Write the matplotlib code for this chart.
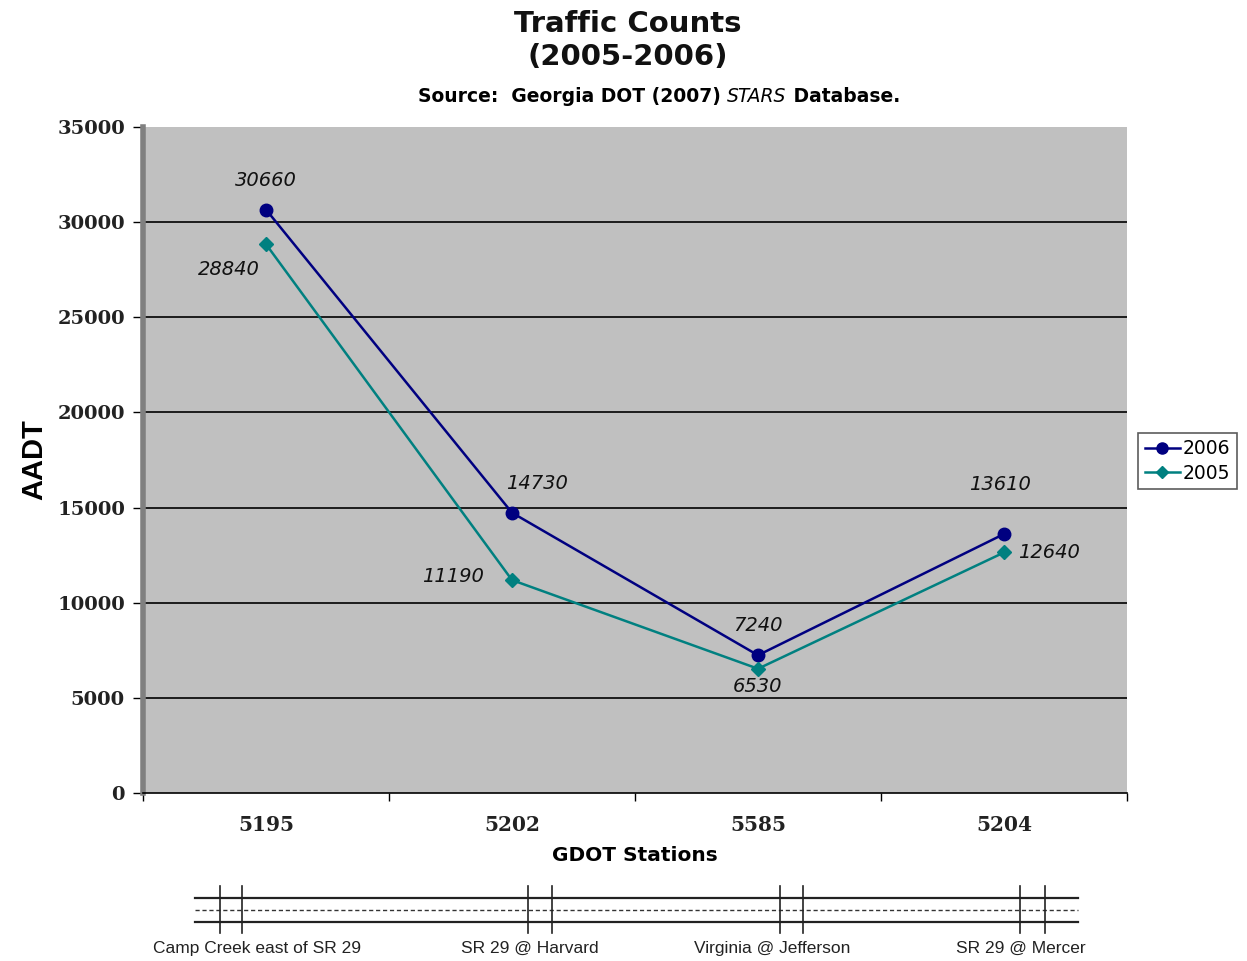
import matplotlib
matplotlib.use("Agg")
import matplotlib.pyplot as plt
from matplotlib.lines import Line2D

stations = ["5195", "5202", "5585", "5204"]
aadt_2006 = [30660, 14730, 7240, 13610]
aadt_2005 = [28840, 11190, 6530, 12640]
locations = ["Camp Creek east of SR 29", "SR 29 @ Harvard", "Virginia @ Jefferson", "SR 29 @ Mercer"]
yticks = [0, 5000, 10000, 15000, 20000, 25000, 30000, 35000]

W, H = 1247, 961
fig = plt.figure(figsize=(W / 100, H / 100), dpi=100)
fig.patch.set_facecolor("white")

def fx(px):
    return px / W

def fy(py):
    return 1 - py / H

ax = fig.add_axes([fx(143), fy(793), fx(1127) - fx(143), fy(127) - fy(793)])
ax.set_facecolor("#C0C0C0")
x = list(range(len(stations)))
ax.set_xlim(-0.5, len(stations) - 0.5)
ax.set_ylim(0, 35000)
for v in yticks[1:-1]:
    ax.axhline(v, color="black", lw=1.2, zorder=1)

ax.plot(x, aadt_2006, color="#000080", lw=1.8, marker="o", ms=9, zorder=3, label="2006")
ax.plot(x, aadt_2005, color="#008080", lw=1.8, marker="D", ms=7, zorder=3, label="2005")

# data labels
lbl_kw = dict(fontsize=14, style="italic", color="#111111", family="DejaVu Sans", zorder=4)
offs_2006 = [(0, 20, "center", "bottom"), (-6, 20, "left", "bottom"), (0, 20, "center", "bottom"), (-4, 40, "center", "bottom")]
offs_2005 = [(-6, -16, "right", "top"), (-28, 4, "right", "center"), (0, -8, "center", "top"), (14, 0, "left", "center")]
for i, v in enumerate(aadt_2006):
    dx, dy, ha, va = offs_2006[i]
    ax.annotate(str(v), (x[i], v), xytext=(dx, dy), textcoords="offset pixels", ha=ha, va=va, **lbl_kw)
for i, v in enumerate(aadt_2005):
    dx, dy, ha, va = offs_2005[i]
    ax.annotate(str(v), (x[i], v), xytext=(dx, dy), textcoords="offset pixels", ha=ha, va=va, **lbl_kw)

ax.set_yticks(yticks)
ax.set_yticklabels([str(v) for v in yticks], fontsize=14, fontweight="bold", family="DejaVu Serif", color="#222222")
ax.set_xticks(x)
ax.set_xticklabels(stations, fontsize=14.5, fontweight="bold", family="DejaVu Serif", color="#222222")
ax.set_xticks([i - 0.5 for i in range(len(stations) + 1)], minor=True)
ax.tick_params(axis="x", which="major", length=0, pad=16)
ax.tick_params(axis="x", which="minor", length=6, width=1, color="black", direction="out")
ax.tick_params(axis="y", length=7, width=1, color="black", direction="out", pad=6)

for s in ["top", "right"]:
    ax.spines[s].set_visible(False)
ax.spines["left"].set_color("#808080")
ax.spines["left"].set_linewidth(4)
ax.spines["bottom"].set_color("black")
ax.spines["bottom"].set_linewidth(1.2)

ax.set_xlabel("GDOT Stations", fontsize=14.5, fontweight="bold", family="DejaVu Sans", labelpad=8)
ax.set_ylabel("AADT", fontsize=21, fontweight="bold", family="Liberation Sans", labelpad=6)

# titles
fig.text(0.5035, fy(24), "Traffic Counts", ha="center", va="center", fontsize=21, fontweight="bold", family="DejaVu Sans", color="#111111")
fig.text(0.5035, fy(57), "(2005-2006)", ha="center", va="center", fontsize=21, fontweight="bold", family="DejaVu Sans", color="#111111")
src_y = fy(97)
fs_src = 13.5
t1 = fig.text(fx(418), src_y, "Source:  Georgia DOT (2007) ", ha="left", va="center", fontsize=fs_src, fontweight="bold", family="DejaVu Sans")
fig.canvas.draw()
r = fig.canvas.get_renderer()
bb = t1.get_window_extent(r)
t2 = fig.text(bb.x1 / W, src_y, "STARS", ha="left", va="center", fontsize=fs_src, style="italic", family="DejaVu Sans")
bb2 = t2.get_window_extent(r)
fig.text(bb2.x1 / W, src_y, " Database.", ha="left", va="center", fontsize=fs_src, fontweight="bold", family="DejaVu Sans")

# legend
handles = [Line2D([], [], color="#000080", marker="o", ms=8, lw=1.8),
           Line2D([], [], color="#008080", marker="D", ms=6, lw=1.8)]
leg = fig.legend(handles, ["2006", "2005"], loc="center left", bbox_to_anchor=(fx(1138), fy(461)),
                 frameon=True, fancybox=False, edgecolor="#333333", handlelength=1.9,
                 handletextpad=0.15, borderpad=0.35, borderaxespad=0, labelspacing=0.3,
                 prop={"family": "DejaVu Sans", "size": 13.5})
leg.get_frame().set_linewidth(1.2)

# bottom road diagram
dax = fig.add_axes([0, 0, 1, 1], facecolor="none")
dax.set_xlim(0, W)
dax.set_ylim(H, 0)
dax.axis("off")
dax.plot([195, 1078], [898, 898], color="#222222", lw=1.6)
dax.plot([195, 1078], [922, 922], color="#222222", lw=1.6)
dax.plot([195, 1078], [910, 910], color="#333333", lw=1, ls=(0, (3, 2)))
bar_pairs = [(220, 242), (528, 552), (780, 803), (1020, 1045)]
for a, b in bar_pairs:
    for xx in (a, b):
        dax.plot([xx, xx], [886, 933], color="#222222", lw=1.2)
label_x = [257, 530, 772, 1021]
for lx, t in zip(label_x, locations):
    dax.text(lx, 948, t, ha="center", va="center", fontsize=12.5, family="Liberation Sans", color="#222222")

fig.savefig("out.png", dpi=100)
